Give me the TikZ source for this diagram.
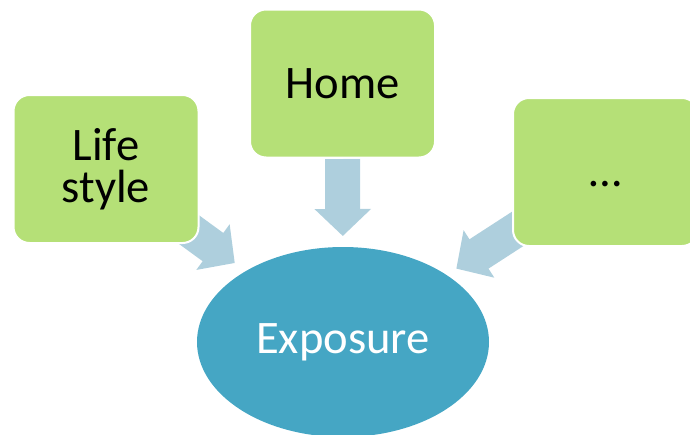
\documentclass[tikz,border=0pt]{standalone}
\usepackage{fontspec}
\setmainfont{Carlito}
\usetikzlibrary{shapes.geometric,arrows.meta,backgrounds}
\definecolor{leafgreen}{HTML}{B5E077}
\definecolor{poolblue}{HTML}{45A6C4}
\definecolor{paleblue}{HTML}{AECFDD}

\begin{document}
\begin{tikzpicture}
[
x=1pt,y=-1pt,
factor/.style={draw=white,line width=2pt,fill=leafgreen,rounded corners=16pt,
  minimum width=185pt,minimum height=148pt,inner sep=0pt,align=center,
  font=\fontsize{46.6pt}{42pt}\selectfont},
outcome/.style={ellipse,fill=poolblue,text=white,minimum width=292pt,
  minimum height=190pt,inner sep=0pt,font=\fontsize{46.6pt}{42pt}\selectfont},
feed/.style 2 args={draw=paleblue,line width=35pt,
  -{Triangle[length=27pt,width=55pt]},shorten <=#1,shorten >=#2},
]
\useasboundingbox (0,0) rectangle (690,434);

%Place the nodes
\node[factor] (life) at (106,169) {Life\\style};
\node[factor] (home) at (342.5,83.5) {Home};
\node[factor] (etc) at (605.5,172) {\vphantom{H}\ldots};
\node[outcome] (expo) at (343,342) {Exposure};

%Draw the connections
\begin{scope}[on background layer]
\draw[feed={82pt}{134pt}] (life.center) -- (expo.center);
\draw[feed={75.5pt}{106pt}] (home.center) -- (expo.center);
\draw[feed={100pt}{135pt}] (etc.center) -- (expo.center);
\end{scope}
\end{tikzpicture}
\end{document}
